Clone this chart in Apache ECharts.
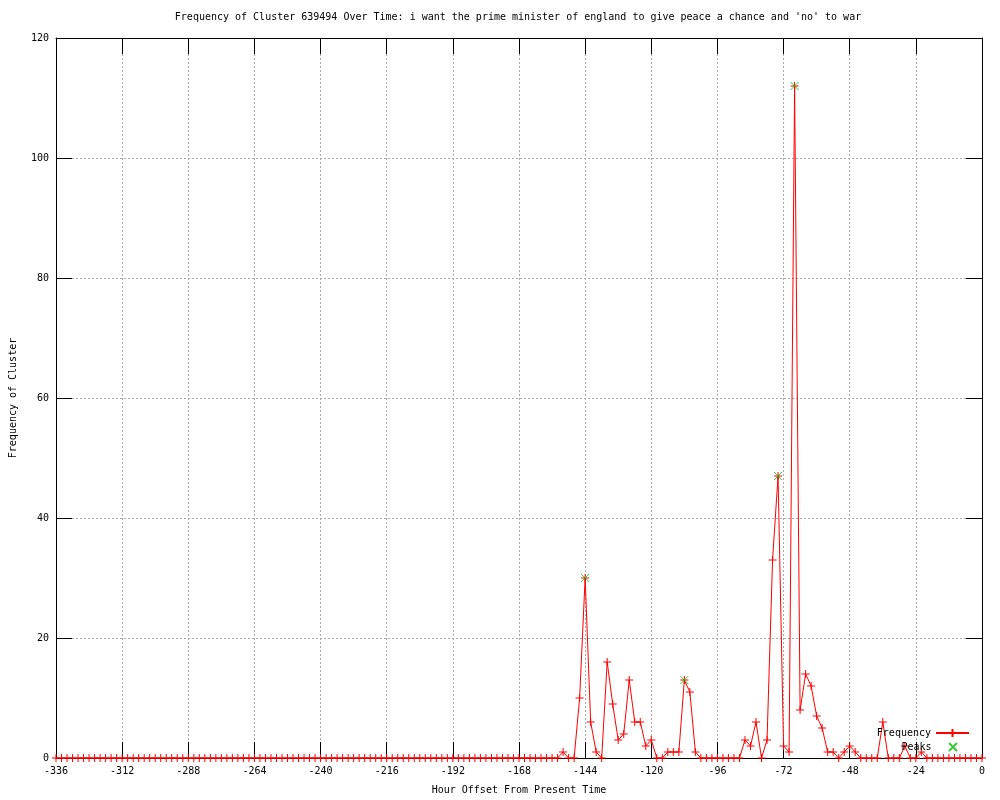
<!DOCTYPE html>
<html>
<head>
<meta charset="utf-8">
<script src="https://cdn.jsdelivr.net/npm/echarts@6/dist/echarts.min.js"></script>
<style>
  html, body { margin: 0; padding: 0; background: #fff; }
  #chart { width: 1000px; height: 800px; }
</style>
</head>
<body>
<div id="chart"></div>
<script>
// hour offsets, one sample every 2 hours
const hours = [
  -336, -334, -332, -330, -328, -326, -324, -322, -320, -318, -316, -314, -312, -310, -308, -306, -304, -302, -300, -298,
  -296, -294, -292, -290, -288, -286, -284, -282, -280, -278, -276, -274, -272, -270, -268, -266, -264, -262, -260, -258,
  -256, -254, -252, -250, -248, -246, -244, -242, -240, -238, -236, -234, -232, -230, -228, -226, -224, -222, -220, -218,
  -216, -214, -212, -210, -208, -206, -204, -202, -200, -198, -196, -194, -192, -190, -188, -186, -184, -182, -180, -178,
  -176, -174, -172, -170, -168, -166, -164, -162, -160, -158, -156, -154, -152, -150, -148, -146, -144, -142, -140, -138,
  -136, -134, -132, -130, -128, -126, -124, -122, -120, -118, -116, -114, -112, -110, -108, -106, -104, -102, -100, -98,
  -96, -94, -92, -90, -88, -86, -84, -82, -80, -78, -76, -74, -72, -70, -68, -66, -64, -62, -60, -58,
  -56, -54, -52, -50, -48, -46, -44, -42, -40, -38, -36, -34, -32, -30, -28, -26, -24, -22, -20, -18,
  -16, -14, -12, -10, -8, -6, -4, -2, 0
];
const counts = [
  0, 0, 0, 0, 0, 0, 0, 0, 0, 0, 0, 0, 0, 0, 0, 0, 0, 0, 0, 0,
  0, 0, 0, 0, 0, 0, 0, 0, 0, 0, 0, 0, 0, 0, 0, 0, 0, 0, 0, 0,
  0, 0, 0, 0, 0, 0, 0, 0, 0, 0, 0, 0, 0, 0, 0, 0, 0, 0, 0, 0,
  0, 0, 0, 0, 0, 0, 0, 0, 0, 0, 0, 0, 0, 0, 0, 0, 0, 0, 0, 0,
  0, 0, 0, 0, 0, 0, 0, 0, 0, 0, 0, 0, 1, 0, 0, 10, 30, 6, 1, 0,
  16, 9, 3, 4, 13, 6, 6, 2, 3, 0, 0, 1, 1, 1, 13, 11, 1, 0, 0, 0,
  0, 0, 0, 0, 0, 3, 2, 6, 0, 3, 33, 47, 2, 1, 112, 8, 14, 12, 7, 5,
  1, 1, 0, 1, 2, 1, 0, 0, 0, 0, 6, 0, 0, 0, 2, 0, 0, 1, 0, 0,
  0, 0, 0, 0, 0, 0, 0, 0, 0
];
const peakHours = [-144, -108, -74, -68];
const peakCounts = [30, 13, 47, 112];

const titleText = "Frequency of Cluster 639494 Over Time: i want the prime minister of england to give peace a chance and 'no' to war";
const FONT = 'DejaVu Sans Mono';
const plus = 'path://M0,5L10,5M5,0L5,10';
const cross = 'path://M0,0L10,10M10,0L0,10';

const chart = echarts.init(document.getElementById('chart'), null, { renderer: 'canvas' });

const tickStyle = { show: true, inside: true, length: 16, lineStyle: { color: '#000', width: 1 } };
const axisLineStyle = { show: true, onZero: false, lineStyle: { color: '#000', width: 1 } };
const gridLine = { show: true, showMinLine: false, showMaxLine: false, lineStyle: { color: '#a8a8a8', type: [2, 2], width: 1 } };
const labelStyle = { fontFamily: FONT, fontSize: 10, color: '#000' };

const option = {
  animation: false,
  backgroundColor: '#fff',
  title: {
    text: titleText,
    left: 518,
    top: 12,
    padding: 0,
    textAlign: 'center',
    textStyle: { fontFamily: FONT, fontSize: 10, fontWeight: 'normal', color: '#000' }
  },
  grid: { left: 55, right: 18, top: 38, bottom: 40, containLabel: false },
  legend: [
    {
      data: ['Frequency'],
      orient: 'vertical',
      align: 'right',
      right: 30,
      top: 728,
      padding: 0,
      itemWidth: 33,
      itemHeight: 10,
      textStyle: labelStyle
    },
    {
      data: ['Peaks'],
      orient: 'vertical',
      align: 'right',
      right: 42,
      top: 742,
      padding: 0,
      itemWidth: 33,
      itemHeight: 8,
      textStyle: labelStyle
    }
  ],
  xAxis: [
    {
      type: 'value',
      position: 'bottom',
      min: -336,
      max: 0,
      interval: 24,
      name: 'Hour Offset From Present Time',
      nameLocation: 'middle',
      nameGap: 27,
      nameTextStyle: labelStyle,
      axisLine: axisLineStyle,
      axisTick: tickStyle,
      axisLabel: Object.assign({ margin: 8 }, labelStyle),
      splitLine: gridLine
    },
    {
      type: 'value',
      position: 'top',
      min: -336,
      max: 0,
      interval: 24,
      axisLine: axisLineStyle,
      axisTick: tickStyle,
      axisLabel: { show: false },
      splitLine: { show: false }
    }
  ],
  yAxis: [
    {
      type: 'value',
      position: 'left',
      min: 0,
      max: 120,
      interval: 20,
      name: 'Frequency of Cluster',
      nameLocation: 'middle',
      nameGap: 38,
      nameTextStyle: labelStyle,
      axisLine: axisLineStyle,
      axisTick: tickStyle,
      axisLabel: Object.assign({ margin: 7 }, labelStyle),
      splitLine: gridLine
    },
    {
      type: 'value',
      position: 'right',
      min: 0,
      max: 120,
      interval: 20,
      axisLine: axisLineStyle,
      axisTick: tickStyle,
      axisLabel: { show: false },
      splitLine: { show: false }
    }
  ],
  series: [
    {
      name: 'Frequency',
      type: 'line',
      data: hours.map((h, i) => [h, counts[i]]),
      symbol: plus,
      symbolSize: 8,
      showAllSymbol: true,
      clip: false,
      lineStyle: { color: '#ff0000', width: 1 },
      itemStyle: { color: '#ff0000', borderColor: '#ff0000', borderWidth: 1 },
      z: 3
    },
    {
      name: 'Peaks',
      type: 'scatter',
      data: peakHours.map((h, i) => [h, peakCounts[i]]),
      symbol: cross,
      symbolSize: 8,
      clip: false,
      itemStyle: { color: '#00c000', borderColor: '#00c000', borderWidth: 1 },
      z: 4
    }
  ]
};

chart.setOption(option);
</script>
</body>
</html>
